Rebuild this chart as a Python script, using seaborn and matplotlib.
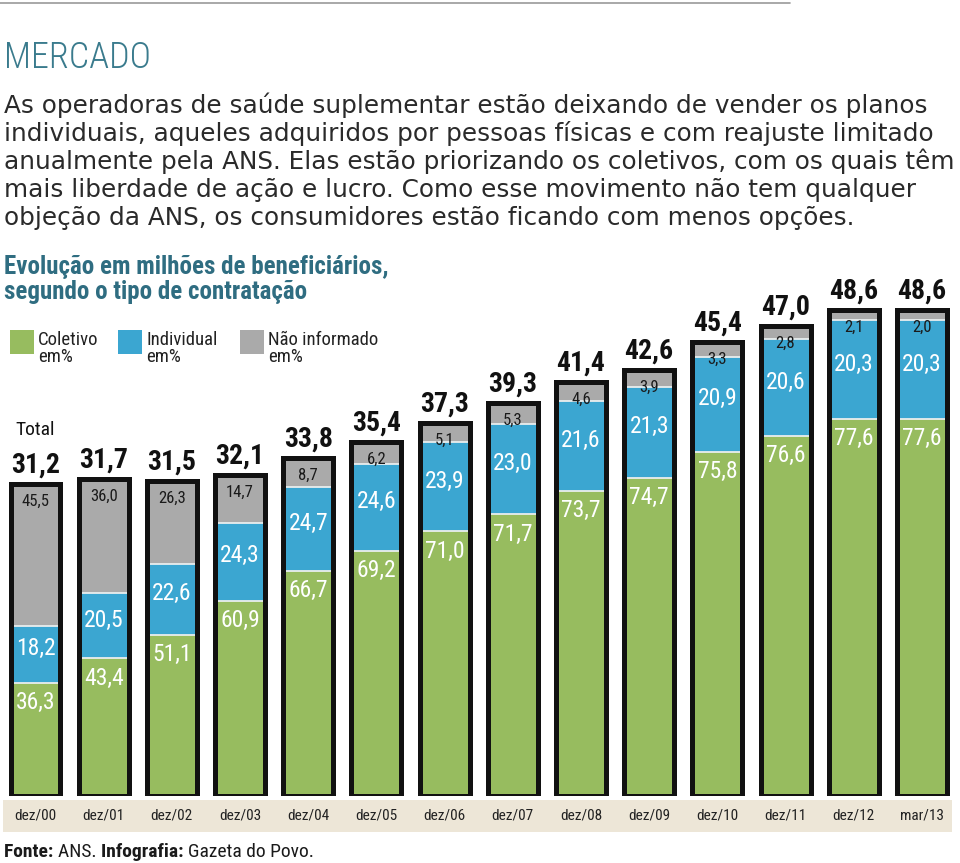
import matplotlib
matplotlib.use("Agg")
import matplotlib.pyplot as plt
from matplotlib import font_manager as fm
from matplotlib.patches import Rectangle
from matplotlib.lines import Line2D
import numpy as np
import seaborn as sns

# data
periodos = ["dez/00", "dez/01", "dez/02", "dez/03", "dez/04", "dez/05", "dez/06",
            "dez/07", "dez/08", "dez/09", "dez/10", "dez/11", "dez/12", "mar/13"]
total = [31.2, 31.7, 31.5, 32.1, 33.8, 35.4, 37.3, 39.3, 41.4, 42.6, 45.4, 47.0, 48.6, 48.6]
coletivo = [36.3, 43.4, 51.1, 60.9, 66.7, 69.2, 71.0, 71.7, 73.7, 74.7, 75.8, 76.6, 77.6, 77.6]
individual = [18.2, 20.5, 22.6, 24.3, 24.7, 24.6, 23.9, 23.0, 21.6, 21.3, 20.9, 20.6, 20.3, 20.3]
nao_informado = [45.5, 36.0, 26.3, 14.7, 8.7, 6.2, 5.1, 5.3, 4.6, 3.9, 3.3, 2.8, 2.1, 2.0]

series_nomes = ["Coletivo\nem%", "Individual\nem%", "Não informado\nem%"]
titulo = "MERCADO"
texto = ["As operadoras de saúde suplementar estão deixando de vender os planos",
         "individuais, aqueles adquiridos por pessoas físicas e com reajuste limitado",
         "anualmente pela ANS. Elas estão priorizando os coletivos, com os quais têm",
         "mais liberdade de ação e lucro. Como esse movimento não tem qualquer",
         "objeção da ANS, os consumidores estão ficando com menos opções."]
subtitulo = "Evolução em milhões de beneficiários,\nsegundo o tipo de contratação"

VERDE = "#97bc5f"
AZUL = "#3ba6d1"
CINZA = "#aaaaaa"
BEGE = "#ede6d7"
TEAL = "#3a7b8d"

# pick the narrowest family on the machine
fontes = fm.fontManager.ttflist
nomes = {f.name for f in fontes}
NARROW = {"family": ["Roboto", "DejaVu Sans"]}
for nome in ["Liberation Sans Narrow", "Roboto Condensed", "Open Sans Condensed"]:
    if nome in nomes:
        NARROW = {"family": [nome, "DejaVu Sans"]}
        break
else:
    if any(f.name == "DejaVu Sans" and str(f.stretch) == "condensed" for f in fontes):
        NARROW = {"family": ["DejaVu Sans"], "fontstretch": "condensed"}

sns.set_theme(style="white")
plt.rcParams["font.family"] = ["DejaVu Sans"]

W, H = 960, 863
fig = plt.figure(figsize=(W / 100, H / 100), dpi=100)
fig.patch.set_facecolor("white")


def fx(x):
    return x / W


def fy(y):
    return 1 - y / H


# top rule
fig.add_artist(Line2D([fx(0), fx(790)], [fy(3), fy(3)], color="#999999", lw=1.2))

fig.text(fx(4), fy(68), titulo, **NARROW, fontsize=26, fontweight="light", color=TEAL,
         va="baseline")
for i, linha in enumerate(texto):
    fig.text(fx(4), fy(113 + i * 28), linha, fontsize=17.8, color="#2a2a2a", va="baseline")
fig.text(fx(4), fy(299), subtitulo, **NARROW, fontsize=18, fontweight="bold",
         color="#2f6d81", va="baseline", linespacing=1.05)

# legend
for cor, nome, x0 in zip([VERDE, AZUL, CINZA], series_nomes, [10, 118, 240]):
    fig.add_artist(Rectangle((fx(x0), fy(354)), fx(24), 24 / H, color=cor, lw=0))
    fig.text(fx(x0 + 28), fy(331), nome, **NARROW, fontsize=13.5, color="#222222",
             va="top", linespacing=0.95)

# beige band under bars
fig.add_artist(Rectangle((fx(3), fy(832)), fx(949), 32 / H, color=BEGE, lw=0, zorder=0))

# bars axes: 10 px per million, baseline at 796 px
base, topo = 796, 240
ax = fig.add_axes([fx(1.4), fy(base), fx(954.6), (base - topo) / H])
ax.set_facecolor("none")

tot = np.array(total)
h_azul = tot * (np.array(coletivo) + np.array(individual)) / 100
h_verde = tot * np.array(coletivo) / 100
largura = 0.733

sns.barplot(x=periodos, y=tot, color=CINZA, saturation=1, width=largura, ax=ax,
            edgecolor="#e9eeee", linewidth=1.3)
sns.barplot(x=periodos, y=h_azul, color=AZUL, saturation=1, width=largura, ax=ax,
            edgecolor="#e9eeee", linewidth=1.3)
sns.barplot(x=periodos, y=h_verde, color=VERDE, saturation=1, width=largura, ax=ax,
            edgecolor="#e9eeee", linewidth=1.3)
sns.barplot(x=periodos, y=tot, color="#111111", fill=False, saturation=1, width=largura,
            ax=ax, linewidth=3.6)

ax.set_ylim(0, (base - topo) / 10)
ax.set_xlim(-0.5, len(periodos) - 0.5)
ax.set_xlabel("")
ax.set_ylabel("")
ax.set_yticks([])
for s in ax.spines.values():
    s.set_visible(False)
ax.tick_params(axis="x", length=0, pad=9)
for lbl in ax.get_xticklabels():
    lbl.set_family(NARROW["family"])
    if "fontstretch" in NARROW:
        lbl.set_stretch(NARROW["fontstretch"])
    lbl.set_fontsize(11)
    lbl.set_color("#222222")

fmt = lambda v: f"{v:.1f}".replace(".", ",")
for i in range(len(periodos)):
    ax.annotate(fmt(total[i]), (i, tot[i]), xytext=(0, 8), textcoords="offset points",
                ha="center", va="baseline", **NARROW, fontsize=20,
                fontweight="bold", color="#111111", annotation_clip=False)
    ax.annotate(fmt(nao_informado[i]), (i, tot[i]), xytext=(0, -7), textcoords="offset points",
                ha="center", va="top", **NARROW, fontsize=12, color="#1a1a1a")
    ax.annotate(fmt(individual[i]), (i, (h_azul[i] + h_verde[i]) / 2), xytext=(0, 4),
                textcoords="offset points", ha="center", va="center", **NARROW,
                fontsize=17, color="white")
    ax.annotate(fmt(coletivo[i]), (i, h_verde[i]), xytext=(0, -6), textcoords="offset points",
                ha="center", va="top", **NARROW, fontsize=17, color="white")

ax.annotate("Total", (0, tot[0]), xytext=(0, 35), textcoords="offset points",
            ha="center", va="baseline", **NARROW, fontsize=14, color="#111111",
            annotation_clip=False)

# footer with mixed weights
r = fig.canvas.get_renderer()
x = 4
for parte, peso in [("Fonte: ", "bold"), ("ANS. ", "normal"), ("Infografia: ", "bold"),
                    ("Gazeta do Povo.", "normal")]:
    t = fig.text(fx(x), fy(857), parte, **NARROW, fontsize=14, fontweight=peso,
                 color="#1a1a1a", va="baseline")
    x += t.get_window_extent(renderer=r).width

fig.savefig("out.png", dpi=100)
